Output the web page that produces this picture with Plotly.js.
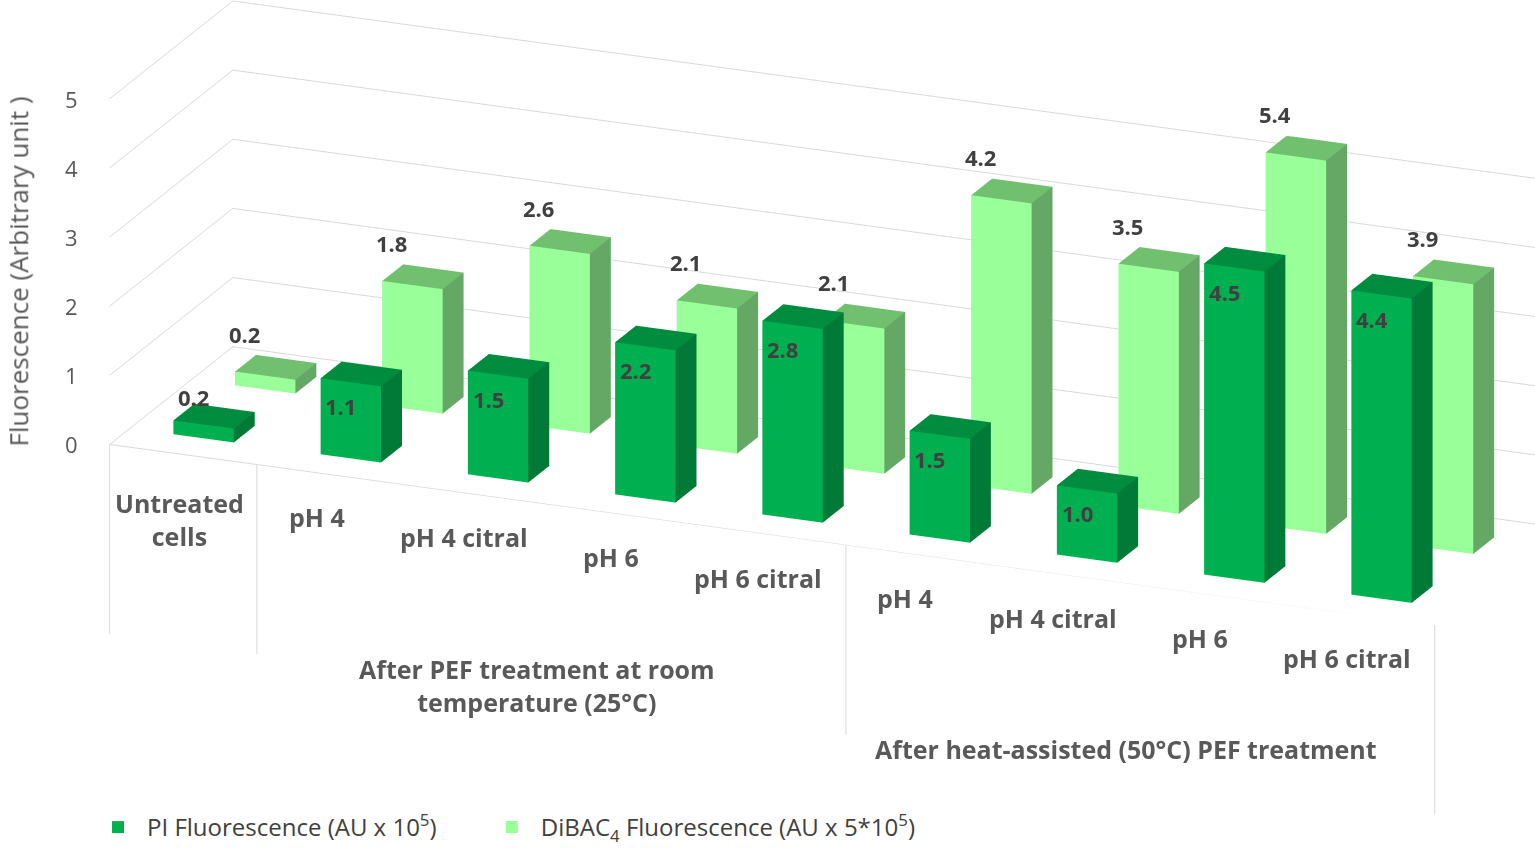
<!DOCTYPE html>
<html>
<head>
<meta charset="utf-8">
<script src="https://cdn.plot.ly/plotly-3.0.1.min.js"></script>
<style>
  html, body { margin: 0; padding: 0; background: #fff; }
  #chart { width: 1535px; height: 850px; }
</style>
</head>
<body>
<div id="chart"></div>
<script>
// values
const categories = ["Untreated<br>cells", "pH 4", "pH 4 citral", "pH 6", "pH 6 citral",
                    "pH 4", "pH 4 citral", "pH 6", "pH 6 citral"];
const groups = ["After PEF treatment at room<br>temperature (25°C)", "After heat-assisted (50°C) PEF treatment"];
const groupStart = [1, 5];
const groupEnd = [4, 8];
const pi_values = [0.2, 1.1, 1.5, 2.2, 2.8, 1.5, 1.0, 4.5, 4.4];
const dibac_values = [0.2, 1.8, 2.6, 2.1, 2.1, 4.2, 3.5, 5.4, 3.9];
const series_names = ["PI Fluorescence (AU x 10<sup>5</sup>)", "DiBAC<sub>4</sub> Fluorescence (AU x 5*10<sup>5</sup>)"];
const z_ticks = [0, 1, 2, 3, 4, 5];

const font = "'Open Sans', 'Noto Sans', sans-serif";
const barW = 0.205;  // half width along categories
const barD = 0.17;   // half depth
const yFront = -0.5;
const zMin = -2.8;

// face colours: front, top, right side, other
const colors = [
    { front: "#00b050", top: "#008c3f", side: "#007a36", other: "#00a04a" },
    { front: "#99ff99", top: "#70c070", side: "#65a865", other: "#88e088" }
];

function boxMesh(values, row, col) {
    let x = [], y = [], z = [], i = [], j = [], k = [], fc = [];
    values.forEach((v, n) => {
        let b = x.length;
        let x0 = n - barW, x1 = n + barW, y0 = row - barD, y1 = row + barD;
        [[x0, y0, 0], [x1, y0, 0], [x1, y1, 0], [x0, y1, 0],
         [x0, y0, v], [x1, y0, v], [x1, y1, v], [x0, y1, v]].forEach(p => {
            x.push(p[0]); y.push(p[1]); z.push(p[2]);
        });
        let faces = [
            [0, 1, 2, "other"], [0, 2, 3, "other"],
            [4, 5, 6, "top"], [4, 6, 7, "top"],
            [0, 1, 5, "front"], [0, 5, 4, "front"],
            [3, 2, 6, "other"], [3, 6, 7, "other"],
            [0, 3, 7, "other"], [0, 7, 4, "other"],
            [1, 2, 6, "side"], [1, 6, 5, "side"]
        ];
        faces.forEach(f => {
            i.push(b + f[0]); j.push(b + f[1]); k.push(b + f[2]); fc.push(col[f[3]]);
        });
    });
    return {
        type: "mesh3d", x: x, y: y, z: z, i: i, j: j, k: k, facecolor: fc,
        flatshading: true, hoverinfo: "skip", showscale: false,
        lighting: { ambient: 1, diffuse: 0, specular: 0, roughness: 1, fresnel: 0 },
        scene: "scene"
    };
}

let data = [boxMesh(pi_values, 0, colors[0]), boxMesh(dibac_values, 1, colors[1])];

// floor front edge and divider lines of the category panel
const panelDepth = 2.74;
let lx = [-0.5, 8.5, null], ly = [yFront, yFront, null], lz = [0, 0, null];
[-0.5, 0.5, 4.5, 8.5].forEach(d => {
    lx.push(d, d, null); ly.push(yFront, yFront, null); lz.push(0, -panelDepth, null);
});
data.push({
    type: "scatter3d", mode: "lines", x: lx, y: ly, z: lz, connectgaps: false,
    line: { color: "#d9d9d9", width: 2 }, hoverinfo: "skip", showlegend: false, scene: "scene"
});

// legend entries (one legend per series so the gap matches)
series_names.forEach((s, n) => {
    data.push({ type: "bar", x: [null], y: [null], name: s, marker: { color: colors[n].front },
        legend: n == 0 ? "legend" : "legend2" });
});

// labels
let anns = [];
let labFont = { family: font, size: 22, color: "#404040" };
pi_values.forEach((v, n) => {
    anns.push({ x: n, y: -barD, z: v, text: "<b>" + v.toFixed(1) + "</b>", showarrow: false,
        xshift: -10, yshift: v < 0.5 ? 28 : -24, font: labFont });
});
dibac_values.forEach((v, n) => {
    anns.push({ x: n, y: 1 - barD, z: v, text: "<b>" + v.toFixed(1) + "</b>", showarrow: false,
        xshift: -21, yshift: 42, font: labFont });
});
let catFont = { family: font, size: 25, color: "#595959" };
categories.forEach((c, n) => {
    anns.push({ x: n, y: yFront, z: n == 0 ? -0.94 : -0.62, text: "<b>" + c + "</b>", showarrow: false,
        xshift: n == 0 ? -4 : -14, font: catFont });
});
groups.forEach((g, n) => {
    anns.push({ x: (groupStart[n] + groupEnd[n]) / 2, y: yFront, z: -2.1, text: "<b>" + g + "</b>",
        showarrow: false, yanchor: "top", xshift: -14, font: catFont });
});
// value axis tick labels next to the left wall
z_ticks.forEach(t => {
    anns.push({ x: -0.5, y: yFront, z: t, text: String(t), showarrow: false, xshift: -38,
        font: { family: font, size: 22, color: "#595959" } });
});

let hidden = {
    showgrid: false, zeroline: false, showline: false, showticklabels: false,
    showbackground: false, showspikes: false, ticks: "", title: { text: "" }
};

let legendStyle = {
    orientation: "h", y: 0.0, xanchor: "left", yanchor: "bottom",
    font: { family: font, size: 24, color: "#404040" }, itemwidth: 48
};

let layout = {
    width: 1535, height: 850,
    margin: { l: 0, r: 0, t: 0, b: 0 },
    paper_bgcolor: "#ffffff",
    showlegend: true,
    legend: Object.assign({ x: 0.058 }, legendStyle),
    legend2: Object.assign({ x: 0.3145 }, legendStyle),
    xaxis: { visible: false }, yaxis: { visible: false },
    scene: {
        domain: { x: [0, 1], y: [0, 1] },
        aspectmode: "manual",
        aspectratio: { x: 3.375, y: 0.7575, z: 1.4125 },
        camera: {
            eye: { x: 0.392, y: -1.354, z: 0.415 },
            center: { x: -0.169, y: 0, z: -0.095 },
            up: { x: 0, y: 0, z: 1 },
            projection: { type: "orthographic" }
        },
        xaxis: Object.assign({}, hidden, { range: [-0.5, 8.5] }),
        yaxis: Object.assign({}, hidden, { range: [-0.5, 1.5] }),
        zaxis: {
            range: [zMin, 5.4], tickvals: z_ticks,
            showgrid: true, gridcolor: "#d9d9d9", gridwidth: 2,
            zeroline: false, showline: false, showbackground: false, showspikes: false,
            showticklabels: false, ticks: "", title: { text: "" }
        },
        annotations: anns
    },
    annotations: [{
        xref: "paper", yref: "paper", x: 0.012, y: 0.681, xanchor: "center", yanchor: "middle",
        textangle: -90, text: "Fluorescence (Arbitrary unit )", showarrow: false,
        font: { family: font, size: 26, color: "#595959" }
    }]
};

Plotly.newPlot("chart", data, layout, { displayModeBar: false });
</script>
</body>
</html>
